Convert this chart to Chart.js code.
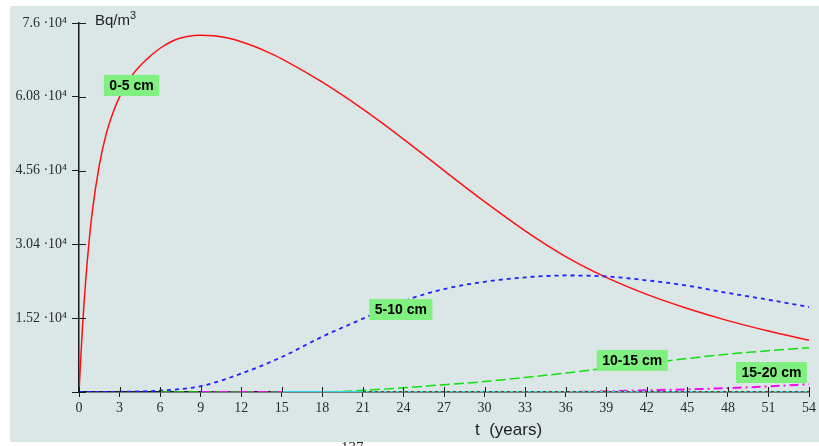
<!DOCTYPE html>
<html>
<head>
<meta charset="utf-8">
<script src="https://cdn.jsdelivr.net/npm/chart.js@4"></script>
<style>
  body { margin: 0; width: 819px; height: 446px; overflow: hidden; background: #fff; position: relative; font-family: "Liberation Sans", Arial, sans-serif; }
  #panel { position: absolute; left: 10px; top: 6px; width: 809px; height: 436px; background: #dbe7e7; }
  #chart { position: absolute; left: 0; top: 0; }
  .unit { position: absolute; left: 95px; top: 11px; font-size: 15px; color: #222; }
  .unit sup { font-size: 11px; vertical-align: 6px; line-height: 0; }
  .xtitle { position: absolute; left: 475px; top: 420px; font-size: 17px; color: #222; white-space: pre; }
  .caption { position: absolute; left: 341px; top: 439px; font-family: "Liberation Serif", serif; font-size: 15px; color: #222; }
</style>
</head>
<body>
<div id="panel"><canvas id="chart" width="809" height="436"></canvas></div>
<div class="unit">Bq/m<sup>3</sup></div>
<div class="xtitle">t  (years)</div>
<div class="caption">137</div>
<script>
// layer 0-5 cm (denser points where it climbs)
const tTop = [0, 0.25, 0.5, 0.75, 1, 1.5, 2, 2.5, 3, 4, 5, 6, 7, 8, 9, 10, 11, 12, 13, 14, 15, 18, 21, 24, 27, 30, 33, 36, 39, 42, 45, 48, 51, 54];
const layer0_5 = [0, 13000, 23100, 31100, 37500, 46700, 53000, 57400, 60800, 65500, 68500, 70800, 72400, 73200, 73500, 73350, 72900, 72150, 71150, 69950, 68600, 63800, 58250, 52100, 45600, 39200, 33200, 27900, 23600, 20100, 17200, 14700, 12550, 10650];

// deeper layers, every 3 years (null = not drawn yet)
const years = [0, 3, 6, 9, 12, 15, 18, 21, 24, 27, 30, 33, 36, 39, 42, 45, 48, 51, 54];
const layer5_10 = [0, 50, 300, 1200, 3800, 7200, 11400, 15100, 18700, 21200, 22700, 23600, 24000, 23800, 23000, 21900, 20400, 19000, 17500];
const layer10_15 = [null, null, 0, 0, 0, 0, 0, 350, 850, 1500, 2150, 3000, 3900, 4900, 5900, 6900, 7800, 8500, 9100];
const layer15_20 = [null, null, null, 0, 0, 0, 0, 0, 0, 0, 0, 0, 0, 150, 350, 550, 800, 1150, 1600];
const layer20_25 = [null, null, null, null, null, 0, 0, 0, 0, 0, 0, 0, 0, 0, 0, 0, 0, 0, 0];
const layer25_30 = [null, null, null, null, null, null, null, 0, 0, 0, 0, 0, 0, 0, 0, 0, 0, 0, 0];

const yTicks = [0, 15200, 30400, 45600, 60800, 76000];

const tags = [
  { text: "0-5 cm", year: 1.84, value: 65300 },
  { text: "5-10 cm", year: 21.47, value: 19150 },
  { text: "10-15 cm", year: 38.3, value: 8650 },
  { text: "15-20 cm", year: 48.6, value: 6180 }
];

const pts = (xs, ys) => xs.map((x, i) => ({ x: x, y: ys[i] }));

// inner half of the tick marks (they cross the axis line)
const innerTicks = {
  id: "innerTicks",
  afterDatasetsDraw(chart) {
    const { ctx, chartArea, scales } = chart;
    ctx.save();
    ctx.strokeStyle = "#1a1a1a";
    ctx.lineWidth = 1;
    scales.x.ticks.forEach(t => {
      const px = Math.round(scales.x.getPixelForValue(t.value)) + 0.5;
      ctx.beginPath();
      ctx.moveTo(px, chartArea.bottom);
      ctx.lineTo(px, chartArea.bottom - 5);
      ctx.stroke();
    });
    scales.y.ticks.forEach(t => {
      const py = Math.round(scales.y.getPixelForValue(t.value)) + 0.5;
      ctx.beginPath();
      ctx.moveTo(chartArea.left, py);
      ctx.lineTo(chartArea.left + 7, py);
      ctx.stroke();
    });
    ctx.restore();
  }
};

// green layer labels
const layerTags = {
  id: "layerTags",
  afterDatasetsDraw(chart) {
    const { ctx, scales } = chart;
    ctx.save();
    ctx.font = "bold 14px 'Liberation Sans', Arial, sans-serif";
    ctx.textBaseline = "middle";
    tags.forEach(tag => {
      const x = scales.x.getPixelForValue(tag.year);
      const y = scales.y.getPixelForValue(tag.value);
      const w = ctx.measureText(tag.text).width + 11;
      ctx.fillStyle = "#80f080";
      ctx.fillRect(x, y, w, 21);
      ctx.fillStyle = "#000";
      ctx.fillText(tag.text, x + 5.5, y + 11);
    });
    ctx.restore();
  }
};

const lineStyle = (color, width, dash, order) => ({
  borderColor: color,
  borderWidth: width,
  borderDash: dash,
  order: order,
  pointRadius: 0,
  fill: false,
  cubicInterpolationMode: "monotone"
});

new Chart(document.getElementById("chart"), {
  type: "line",
  data: {
    datasets: [
      { label: "0-5 cm", data: pts(tTop, layer0_5), ...lineStyle("#ff1010", 1.5, [], 6) },
      { label: "5-10 cm", data: pts(years, layer5_10), ...lineStyle("#2020ff", 1.8, [4, 4], 5) },
      { label: "10-15 cm", data: pts(years, layer10_15), ...lineStyle("#10e010", 1.5, [10, 4], 4) },
      { label: "15-20 cm", data: pts(years, layer15_20), ...lineStyle("#ee10ee", 2, [9, 4, 2, 4], 3) },
      { label: "20-25 cm", data: pts(years, layer20_25), ...lineStyle("#30d8e0", 2, [], 2) },
      { label: "25-30 cm", data: pts(years, layer25_30), ...lineStyle("#8b3a10", 2, [3, 3], 1) }
    ]
  },
  options: {
    responsive: false,
    animation: false,
    layout: { padding: { top: 17, right: 6, left: 0, bottom: 0 } },
    plugins: { legend: { display: false }, tooltip: { enabled: false } },
    scales: {
      x: {
        type: "linear",
        min: 0,
        max: 54,
        ticks: {
          stepSize: 3,
          autoSkip: false,
          maxRotation: 0,
          padding: 3,
          color: "#2a2a2a",
          font: { family: "'Liberation Serif', serif", size: 14 }
        },
        grid: { drawOnChartArea: false, tickLength: 5, color: "#1a1a1a" },
        border: { color: "#1a1a1a", width: 1.5 },
        afterFit: s => { s.height = 50; }
      },
      y: {
        min: 0,
        max: 76000,
        afterBuildTicks: s => { s.ticks = yTicks.map(v => ({ value: v })); },
        ticks: {
          padding: 5,
          color: "#2a2a2a",
          font: { family: "'Liberation Serif', serif", size: 14 },
          callback: v => v === 0 ? "" : (v / 10000) + " \u00b710\u2074"
        },
        grid: { drawOnChartArea: false, tickLength: 7, color: "#1a1a1a" },
        border: { color: "#1a1a1a", width: 1.5 },
        afterFit: s => { s.width = 69; }
      }
    }
  },
  plugins: [innerTicks, layerTags]
});
</script>
</body>
</html>
